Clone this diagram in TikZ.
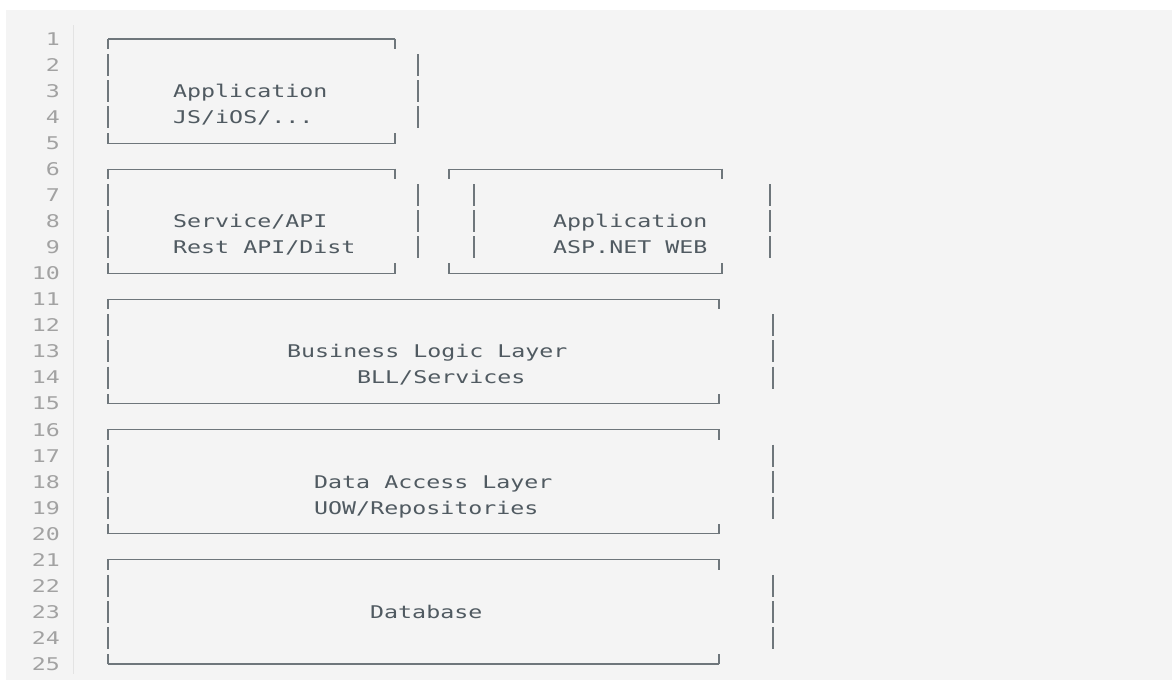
\documentclass[tikz,border=0pt]{standalone}
\usepackage{fontspec}
\newfontfamily\codefont[FakeStretch=1.33]{DejaVu Sans Mono}

\definecolor{pagebg}{HTML}{FFFFFF}
\definecolor{panel}{HTML}{F4F4F4}
\definecolor{gutterline}{HTML}{E3E3E3}
\definecolor{lineno}{HTML}{A2A2A2}
\definecolor{codetext}{HTML}{505A61}
\definecolor{boxrule}{HTML}{6E767B}

% vertical centre and baseline of a row of the listing
\newcommand\rowc[1]{39+26.04*(#1-1)}
\newcommand\rowb[1]{45.4+26.04*(#1-1)}

\tikzset{
  codeline/.style={anchor=base west, inner sep=0pt, text=codetext,
    font=\codefont\fontsize{17.5}{20}\selectfont},
  linenum/.style={anchor=base east, inner sep=0pt, text=lineno,
    font=\codefont\fontsize{17.5}{20}\selectfont},
  hrule/.style={draw=boxrule, line width=1.1pt},
  vrule/.style={draw=boxrule, line width=1.5pt},
}

% a box drawn with box-drawing characters, five rows tall
% #1 corner x left, #2 corner x right, #3 bar x left, #4 bar x right, #5 top row
\newcommand\charframe[5]{%
  \draw[hrule] (#1,{\rowc{#5}}) -- (#2,{\rowc{#5}});
  \draw[hrule] (#1,{\rowc{#5+4}}) -- (#2,{\rowc{#5+4}});
  \draw[vrule] (#1,{\rowc{#5}-0.5}) -- (#1,{\rowc{#5}+10});
  \draw[vrule] (#2,{\rowc{#5}-0.5}) -- (#2,{\rowc{#5}+10});
  \draw[vrule] (#1,{\rowc{#5+4}+0.5}) -- (#1,{\rowc{#5+4}-10});
  \draw[vrule] (#2,{\rowc{#5+4}+0.5}) -- (#2,{\rowc{#5+4}-10});
  \foreach \k in {1,2,3}{
    \draw[vrule] (#3,{\rowc{#5+\k}-11}) -- (#3,{\rowc{#5+\k}+11});
    \draw[vrule] (#4,{\rowc{#5+\k}-11}) -- (#4,{\rowc{#5+\k}+11});
  }%
}

\begin{document}
\begin{tikzpicture}[x=1pt, y=-1pt]
  \useasboundingbox (0,0) rectangle (1172,680);
  \fill[pagebg] (0,0) rectangle (1172,680);
  \fill[panel] (6,10) rectangle (1172,680);
  \draw[gutterline, line width=1pt] (73,25) -- (73,674);

  % line numbers
  \foreach \i in {1,...,25}{
    \node[linenum] (ln\i) at (60,{\rowb{\i}}) {\i};
  }

  % frames
  \charframe{108}{395}{108}{418}{1}
  \charframe{108}{395}{108}{418}{6}
  \charframe{449}{722}{474}{770}{6}
  \charframe{108}{719}{108}{773}{11}
  \charframe{108}{719}{108}{773}{16}
  \charframe{108}{719}{108}{773}{21}

  % texts
  \node[codeline] (appname)  at (173,{\rowb{3}})  {Application};
  \node[codeline] (appkind)  at (173,{\rowb{4}})  {JS/iOS/...};
  \node[codeline] (svcname)  at (173,{\rowb{8}})  {Service/API};
  \node[codeline] (svckind)  at (173,{\rowb{9}})  {Rest API/Dist};
  \node[codeline] (webname)  at (553,{\rowb{8}})  {Application};
  \node[codeline] (webkind)  at (553,{\rowb{9}})  {ASP.NET WEB};
  \node[codeline] (bllname)  at (287,{\rowb{13}}) {Business Logic Layer};
  \node[codeline] (bllkind)  at (357,{\rowb{14}}) {BLL/Services};
  \node[codeline] (dalname)  at (314,{\rowb{18}}) {Data Access Layer};
  \node[codeline] (dalkind)  at (314,{\rowb{19}}) {UOW/Repositories};
  \node[codeline] (dbname)   at (370,{\rowb{23}}) {Database};
\end{tikzpicture}
\end{document}
